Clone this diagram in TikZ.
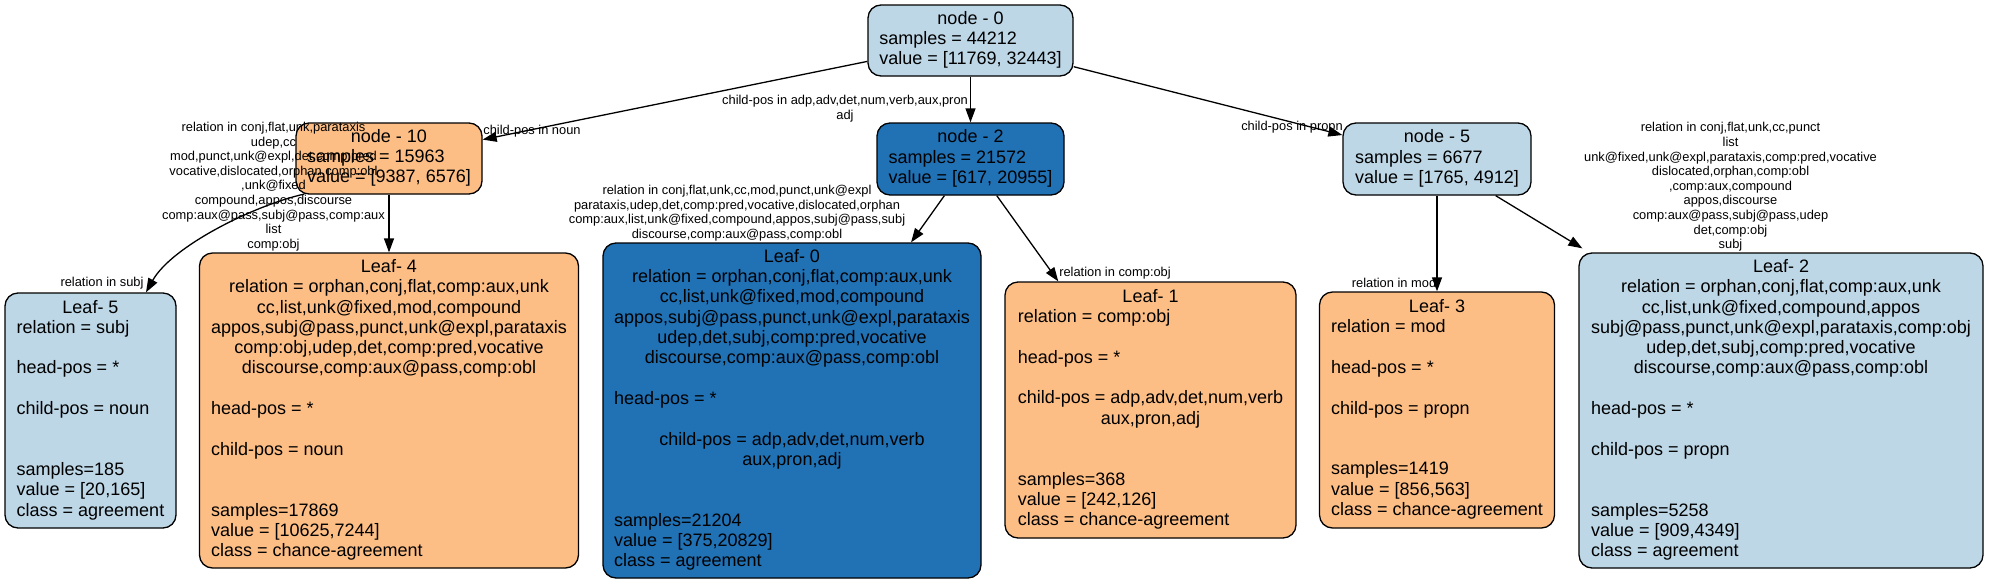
\documentclass[tikz,border=0pt]{standalone}
\usepackage{fontspec}
\setmainfont{Liberation Sans}
\usetikzlibrary{arrows.meta,calc}
\definecolor{lb}{HTML}{BDD7E7}
\definecolor{db}{HTML}{2171B5}
\definecolor{org}{HTML}{FDBE85}
\newcommand{\nodefont}{\fontsize{18}{20.3}\selectfont}
\newcommand{\labfont}{\fontsize{12.86}{14.6}\selectfont}
\newcommand{\ctrline}[1]{\multicolumn{1}{@{}c@{}}{#1}}
\newcommand{\nodetab}[1]{\begin{tabular}{@{}l@{}}#1\end{tabular}}
\begin{document}
\begin{tikzpicture}[x=1pt,y=-1pt,
  box/.style={draw=black, line width=1.3pt, rounded corners=13pt, inner sep=0pt, font=\nodefont, text=black},
  lbbox/.style={box, fill=lb},
  dbbox/.style={box, fill=db},
  orbox/.style={box, fill=org},
  elab/.style={font=\labfont, align=center, inner sep=0pt, text=black},
  arr/.style={-{Triangle[length=14pt,width=10pt]}, line width=1.3pt, draw=black}]
\useasboundingbox (0,0) rectangle (1989,584);
\fill[white] (0,0) rectangle (1989,584);

% internal nodes
\node[lbbox, minimum width=205pt, minimum height=71pt] (n0) at (970.5,40.5)
  {\nodetab{\ctrline{node - 0}\\ samples = 44212\\ value = [11769, 32443]}};
\node[orbox, minimum width=186pt, minimum height=71pt] (n10) at (389,158.5)
  {\nodetab{\ctrline{node - 10}\\ samples = 15963\\ value = [9387, 6576]}};
\node[dbbox, minimum width=187pt, minimum height=72pt] (n2) at (970.5,159)
  {\nodetab{\ctrline{node - 2}\\ samples = 21572\\ value = [617, 20955]}};
\node[lbbox, minimum width=188pt, minimum height=72pt] (n5) at (1437,159)
  {\nodetab{\ctrline{node - 5}\\ samples = 6677\\ value = [1765, 4912]}};

% leaves
\node[lbbox, minimum width=171pt, minimum height=235pt] (leaf5) at (90.5,410.5)
  {\nodetab{\ctrline{Leaf- 5}\\
  relation = subj\\ \\
  head-pos = *\\ \\
  child-pos = noun\\ \\ \\
  samples=185\\
  value = [20,165]\\
  class = agreement}};

\node[orbox, minimum width=379pt, minimum height=315pt] (leaf4) at (389,410.5)
  {\nodetab{\ctrline{Leaf- 4}\\
  \ctrline{relation = orphan,conj,flat,comp:aux,unk}\\
  \ctrline{cc,list,unk@fixed,mod,compound}\\
  \ctrline{appos,subj@pass,punct,unk@expl,parataxis}\\
  \ctrline{comp:obj,udep,det,comp:pred,vocative}\\
  \ctrline{discourse,comp:aux@pass,comp:obl}\\ \\
  head-pos = *\\ \\
  child-pos = noun\\ \\ \\
  samples=17869\\
  value = [10625,7244]\\
  class = chance-agreement}};

\node[dbbox, minimum width=378pt, minimum height=335pt] (leaf0) at (792,410.5)
  {\nodetab{\ctrline{Leaf- 0}\\
  \ctrline{relation = orphan,conj,flat,comp:aux,unk}\\
  \ctrline{cc,list,unk@fixed,mod,compound}\\
  \ctrline{appos,subj@pass,punct,unk@expl,parataxis}\\
  \ctrline{udep,det,subj,comp:pred,vocative}\\
  \ctrline{discourse,comp:aux@pass,comp:obl}\\ \\
  head-pos = *\\ \\
  \ctrline{child-pos = adp,adv,det,num,verb}\\
  \ctrline{aux,pron,adj}\\ \\ \\
  samples=21204\\
  value = [375,20829]\\
  class = agreement}};

\node[orbox, minimum width=291pt, minimum height=256pt] (leaf1) at (1150.5,410)
  {\nodetab{\ctrline{Leaf- 1}\\
  relation = comp:obj\\ \\
  head-pos = *\\ \\
  \ctrline{child-pos = adp,adv,det,num,verb}\\
  \ctrline{aux,pron,adj}\\ \\ \\
  samples=368\\
  value = [242,126]\\
  class = chance-agreement}};

\node[orbox, minimum width=235pt, minimum height=236pt] (leaf3) at (1437,410)
  {\nodetab{\ctrline{Leaf- 3}\\
  relation = mod\\ \\
  head-pos = *\\ \\
  child-pos = propn\\ \\ \\
  samples=1419\\
  value = [856,563]\\
  class = chance-agreement}};

\node[lbbox, minimum width=404pt, minimum height=315pt] (leaf2) at (1781,410.5)
  {\nodetab{\ctrline{Leaf- 2}\\
  \ctrline{relation = orphan,conj,flat,comp:aux,unk}\\
  \ctrline{cc,list,unk@fixed,compound,appos}\\
  \ctrline{subj@pass,punct,unk@expl,parataxis,comp:obj}\\
  \ctrline{udep,det,subj,comp:pred,vocative}\\
  \ctrline{discourse,comp:aux@pass,comp:obl}\\ \\
  head-pos = *\\ \\
  child-pos = propn\\ \\ \\
  samples=5258\\
  value = [909,4349]\\
  class = agreement}};

% connectors
\draw[arr] (n0) -- (n10);
\draw[arr] (n0) -- (n2);
\draw[arr] (n0) -- (n5);
\draw[arr] ($(n10.south west)+(9,-0.6)$) .. controls (255,205) and (172,246) .. ($(leaf5.north)+(55.5,0)$);
\draw[arr] (n10) -- (leaf4);
\draw[arr] (n2) -- (leaf0);
\draw[arr] (n2) -- (leaf1);
\draw[arr] (n5) -- (leaf3);
\draw[arr] ($(n5.south east)+(-36,0)$) -- ($(leaf2.north west)+(4,-4)$);

% edge labels
\node[elab] (lnoun) at (532,131) {child-pos in noun};
\node[elab] (ladp) at (845,108.5) {child-pos in adp,adv,det,num,verb,aux,pron\\adj};
\node[elab] (lpropn) at (1292,127) {child-pos in propn};
\node[elab] (lbig) at (273.5,186.5) {relation in conj,flat,unk,parataxis\\udep,cc\\mod,punct,unk@expl,det,comp:pred\\vocative,dislocated,orphan,comp:obl\\,unk@fixed\\compound,appos,discourse\\comp:aux@pass,subj@pass,comp:aux\\list\\comp:obj};
\node[elab] (lsubj) at (102,283) {relation in subj};
\node[elab] (lzero) at (737,213) {relation in conj,flat,unk,cc,mod,punct,unk@expl\\parataxis,udep,det,comp:pred,vocative,dislocated,orphan\\comp:aux,list,unk@fixed,compound,appos,subj@pass,subj\\discourse,comp:aux@pass,comp:obl};
\node[elab] (lcobj) at (1115,273) {relation in comp:obj};
\node[elab] (lmod) at (1394,283) {relation in mod};
\node[elab] (ltwo) at (1730.5,187) {relation in conj,flat,unk,cc,punct\\list\\unk@fixed,unk@expl,parataxis,comp:pred,vocative\\dislocated,orphan,comp:obl\\,comp:aux,compound\\appos,discourse\\comp:aux@pass,subj@pass,udep\\det,comp:obj\\subj};
\end{tikzpicture}
\end{document}
